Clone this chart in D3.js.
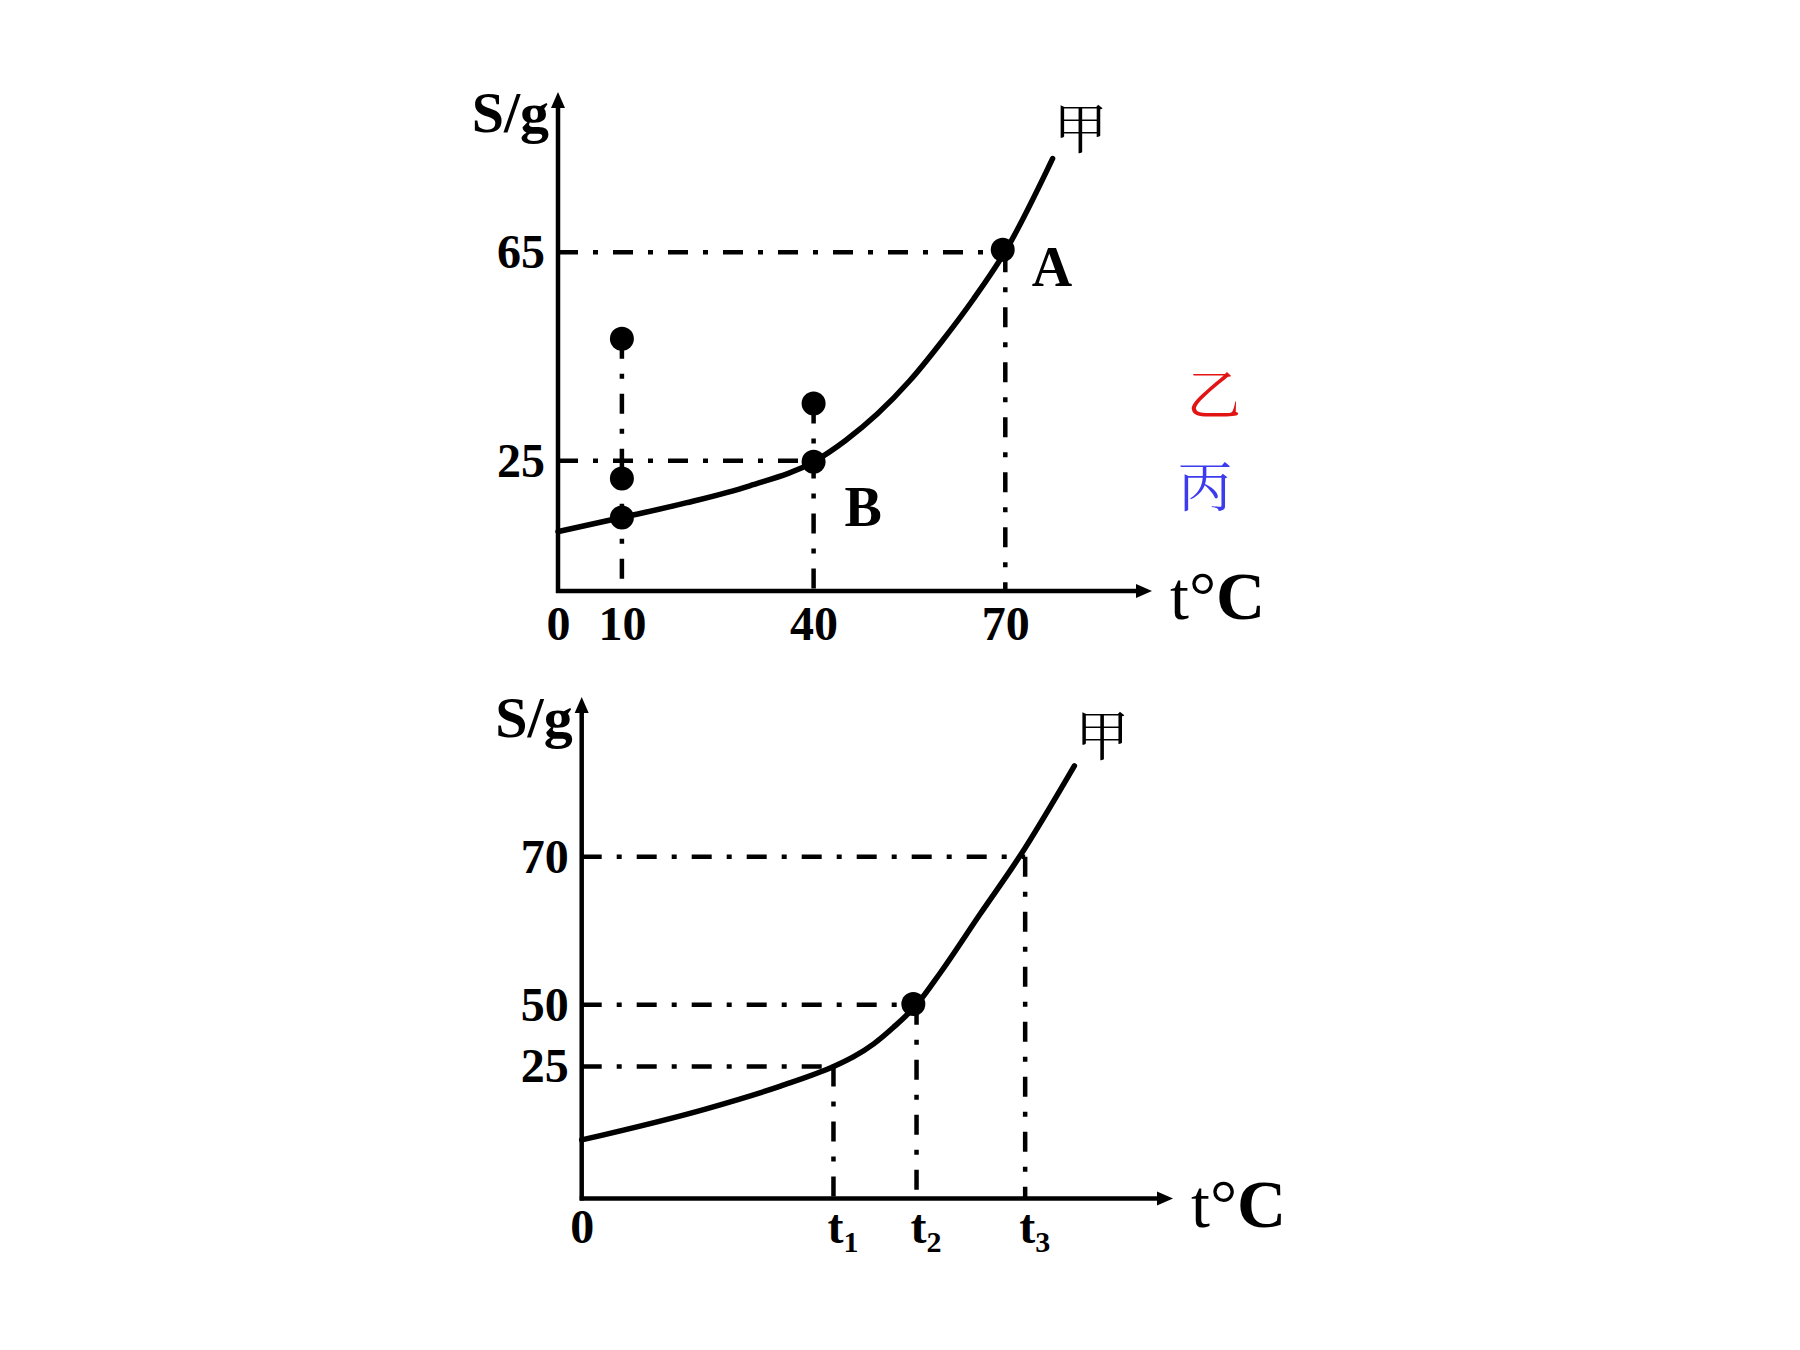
<!DOCTYPE html>
<html><head><meta charset="utf-8">
<script src="https://cdn.jsdelivr.net/npm/d3@7"></script>
<style>html,body{margin:0;padding:0;background:#fff;} svg{display:block;}</style>
</head><body>
<svg id="chart" width="1800" height="1350"></svg>
<script>
// ---------- DATA ----------
// Top panel: solubility curve 甲 (temperature t, solubility S)
const topCurveT = [0, 10, 20, 30, 40, 45, 50, 55, 60, 65, 70, 77.4];
const topCurveS = [11.4, 14.1, 16.9, 20.2, 24.8, 28.9, 34.0, 40.3, 47.8, 56.0, 65.2, 83.0];
const topDotT = [10, 10, 10, 40, 40, 69.6];
const topDotS = [48.4, 21.6, 14.1, 36.0, 24.8, 65.5];
const topXTicks = [0, 10, 40, 70];
const topYTicks = [25, 65];
const topVGuideT = [10, 40, 70];
const topVGuideS = [48.4, 36.0, 65];
const topHGuideS = [65, 25];
const topHGuideT = [70, 40];
const pointLabels = ["A", "B"];
const pointLabelT = [69.6, 40];
const pointLabelS = [65.5, 24.8];

// Bottom panel
const tValues = [39.4, 52.4, 69.4];
const tSubs = ["1", "2", "3"];
const botCurveT = [0, 19.5, 31.1, 39.4, 42.5, 45.7, 48.8, 52.4, 56.1, 62.3, 68.5, 77.1];
const botCurveS = [11.1, 17.0, 21.3, 25, 28.9, 34.2, 40.9, 50, 54.3, 62.2, 70, 82.3];
const botDotT = [51.9];
const botDotS = [50.1];
const botYTicks = [25, 50, 70];
const botVGuideS = [25, 50, 70];
const botHGuideS = [70, 50, 25];
const botHGuideT = [69.4, 52.4, 39.4];

const curveName = "甲";
const legendNames = ["乙", "丙"];
const legendColors = ["#e31414", "#3c3cee"];

// ---------- DRAW ----------
const svg = d3.select("#chart");
svg.append("rect").attr("width", 1800).attr("height", 1350).attr("fill", "#fff");
const SERIF = "'Liberation Serif','Times New Roman',serif";
const CJK = "'Noto Serif CJK SC','Noto Sans CJK SC','Noto Sans CJK JP',sans-serif";
const DASH = "20,15,5,15";

function panel(p) {
  const g = svg.append("g");
  const x = p.x, y = p.y;
  const x0 = x(0), y0 = y(0);

  // dash-dot guide lines
  p.hS.forEach((s, i) => {
    g.append("line").attr("x1", x0).attr("x2", x(p.hT[i]))
      .attr("y1", y(s)).attr("y2", y(s))
      .attr("stroke", "#000").attr("stroke-width", 4.5).attr("stroke-dasharray", DASH);
  });
  p.vT.forEach((t, i) => {
    g.append("line").attr("x1", x(t)).attr("x2", x(t))
      .attr("y1", y(p.vS[i])).attr("y2", y0)
      .attr("stroke", "#000").attr("stroke-width", 4.5).attr("stroke-dasharray", DASH);
  });

  // curve
  const pts = p.cT.map((t, i) => [t, p.cS[i]]);
  const line = d3.line().x(d => x(d[0])).y(d => y(d[1])).curve(d3.curveMonotoneX);
  g.append("path").attr("d", line(pts)).attr("fill", "none")
    .attr("stroke", "#000").attr("stroke-width", 5.5).attr("stroke-linecap", "round");

  // axes lines + arrows
  g.append("line").attr("x1", x0).attr("x2", x0).attr("y1", y0 + 2).attr("y2", p.yTip + 12)
    .attr("stroke", "#000").attr("stroke-width", 4.5);
  g.append("path").attr("d", `M${x0},${p.yTip}L${x0 - 7},${p.yTip + 16}L${x0 + 7},${p.yTip + 16}Z`).attr("fill", "#000");
  g.append("line").attr("x1", x0 - 2).attr("x2", p.xTip - 12).attr("y1", y0).attr("y2", y0)
    .attr("stroke", "#000").attr("stroke-width", 4.5);
  g.append("path").attr("d", `M${p.xTip},${y0}L${p.xTip - 16},${y0 - 7}L${p.xTip - 16},${y0 + 7}Z`).attr("fill", "#000");

  // y axis labels
  const ya = g.append("g").attr("transform", `translate(${x0},0)`)
    .call(d3.axisLeft(y).tickValues(p.yTicks).tickSize(0).tickPadding(13).tickFormat(d3.format("d")));
  ya.select(".domain").remove();
  ya.selectAll("text").attr("font-family", SERIF).attr("font-weight", "bold").attr("font-size", 48).attr("fill", "#000");

  // x axis labels
  const xa = g.append("g").attr("transform", `translate(0,${y0})`)
    .call(d3.axisBottom(x).tickValues(p.xTicks).tickSize(0).tickPadding(p.xPad).tickFormat(p.xFmt));
  xa.select(".domain").remove();
  xa.selectAll("text").attr("font-family", SERIF).attr("font-weight", "bold").attr("font-size", 48).attr("fill", "#000");
  if (p.xSubs) {
    xa.selectAll(".tick text").each(function (d, i) {
      if (i === 0) return;
      const t = d3.select(this);
      t.attr("x", 9);
      t.append("tspan").attr("font-size", 30).attr("dy", 9).text(p.xSubs[i - 1]);
    });
  }

  // dots
  p.dT.forEach((t, i) => {
    g.append("circle").attr("cx", x(t)).attr("cy", y(p.dS[i])).attr("r", 12).attr("fill", "#000");
  });

  // axis titles
  g.append("text").attr("x", x0 - 9).attr("y", p.yTip + 40).attr("text-anchor", "end")
    .attr("font-family", SERIF).attr("font-weight", "bold").attr("font-size", 58).text("S/g");
  const tc = g.append("text").attr("x", p.xTip + 18).attr("y", y0 + 28)
    .attr("font-family", SERIF).attr("font-size", 68);
  tc.append("tspan").text("t°");
  tc.append("tspan").attr("font-weight", "bold").text("C");

  // curve name
  const last = pts[pts.length - 1];
  g.append("text").attr("x", x(last[0]) + 28).attr("y", y(last[1]) - 10)
    .attr("text-anchor", "middle").attr("font-family", CJK).attr("font-size", 54).text(curveName);
  return g;
}

const xTop = d3.scaleLinear().domain([0, 70]).range([558, 558 + 70 * 6.39]);
const yTop = d3.scaleLinear().domain([0, 65]).range([591, 591 - 65 * 5.21]);
const gTop = panel({
  x: xTop, y: yTop, yTip: 92, xTip: 1152,
  cT: topCurveT, cS: topCurveS, dT: topDotT, dS: topDotS,
  vT: topVGuideT, vS: topVGuideS, hS: topHGuideS, hT: topHGuideT,
  xTicks: topXTicks, yTicks: topYTicks, xPad: 15, xFmt: d3.format("d")
});

// point labels A, B
const lblOff = [[29, 36], [31, 64]];
pointLabels.forEach((l, i) => {
  gTop.append("text").attr("x", xTop(pointLabelT[i]) + lblOff[i][0]).attr("y", yTop(pointLabelS[i]) + lblOff[i][1])
    .attr("font-family", SERIF).attr("font-weight", "bold").attr("font-size", 56).text(l);
});

// coloured names
const legY = [415, 507];
const legX = [1214, 1205];
legendNames.forEach((n, i) => {
  svg.append("text").attr("x", legX[i]).attr("y", legY[i]).attr("text-anchor", "middle")
    .attr("font-family", CJK).attr("font-size", 54).attr("fill", legendColors[i]).text(n);
});

const xBot = d3.scaleLinear().domain([0, 70]).range([581.7, 581.7 + 70 * 6.39]);
const yBot = d3.scaleLinear().domain([0, 25, 50, 70]).range([1198.5, 1066.6, 1004.8, 856.8]);
panel({
  x: xBot, y: yBot, yTip: 697, xTip: 1173,
  cT: botCurveT, cS: botCurveS, dT: botDotT, dS: botDotS,
  vT: tValues, vS: botVGuideS, hS: botHGuideS, hT: botHGuideT,
  xTicks: [0].concat(tValues), yTicks: botYTicks, xPad: 10.5,
  xFmt: (d, i) => i === 0 ? "0" : "t", xSubs: tSubs
});
</script>
</body></html>
